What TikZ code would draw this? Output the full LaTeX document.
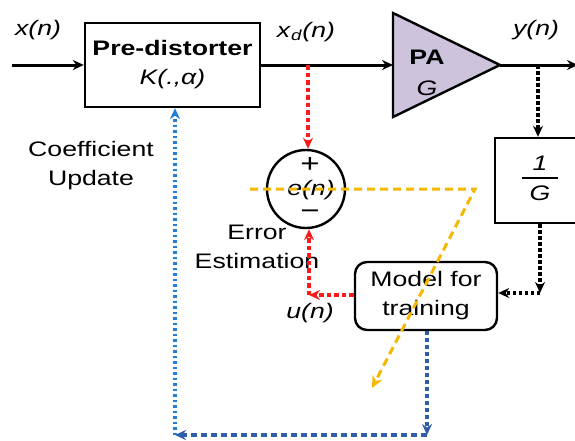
\documentclass[tikz,border=0pt]{standalone}
\usepackage{fontspec}
\setmainfont{Liberation Sans}[FakeStretch=1.27]
\usetikzlibrary{arrows.meta}
\definecolor{paFill}{HTML}{CDC3DD}
\definecolor{redD}{HTML}{FF1A1A}
\definecolor{yelD}{HTML}{F5B700}
\definecolor{blueDark}{HTML}{2F5DA8}
\definecolor{blueLight}{HTML}{1F7FD6}
\tikzset{
  txt/.style={font=\fontsize{21}{29}\selectfont, inner sep=0pt, align=center},
  sign/.style={font=\fontsize{26}{26}\selectfont, inner sep=0pt, text height=14pt, text depth=0pt, anchor=base},
  blockbox/.style={draw, line width=2.4pt, txt},
  solidarrow/.style={line width=3pt, -{Stealth[length=11pt,width=10pt]}},
  blackdot/.style={line width=3.5pt, dash pattern=on 3.5pt off 2.5pt, -{Stealth[length=11pt,width=10pt]}},
  reddot/.style={redD, line width=3.5pt, dash pattern=on 4.5pt off 3pt, -{Stealth[length=11pt,width=10pt]}},
  yeldash/.style={yelD, line width=3pt, dash pattern=on 8pt off 5pt, -{Stealth[length=12pt,width=11pt]}},
  bluedot/.style={blueLight, line width=3.5pt, dash pattern=on 2.5pt off 3pt, -{Stealth[length=11pt,width=10pt]}},
  bluedark/.style={blueDark, line width=3.5pt, dash pattern=on 4pt off 3pt, -{Stealth[length=11pt,width=10pt]}},
  bluedash/.style={blueDark, line width=3.5pt, dash pattern=on 6pt off 4pt, -{Stealth[length=11pt,width=10pt]}},
}
\begin{document}
\begin{tikzpicture}[x=1pt,y=-1pt]
\useasboundingbox (0,0) rectangle (575,440);
% blocks
\node[blockbox, minimum width=175pt, minimum height=84pt] (pd) at (172.5,65)
  {\textbf{Pre-distorter}\\\textit{K(.,α)}};
\coordinate (pain) at (393,65);
\coordinate (patop) at (393,13);
\coordinate (pabot) at (393,117);
\coordinate (paout) at (500,65);
\draw[line width=2.4pt, fill=paFill] (patop) -- (paout) -- (pabot) -- cycle;
\node[txt] (palbl) at (427,57) {\textbf{PA}};
\node[txt] (pag) at (427,88) {\textit{G}};
\node[blockbox, minimum width=92pt, minimum height=85pt] (ginv) at (541,180.5) {};
\node[txt] (one) at (540,163) {\textit{1}};
\node[txt] (gg) at (540,193) {\textit{G}};
\draw[line width=2.4pt] (522,178) -- (558,178);
\node[blockbox, rounded corners=12pt, minimum width=142pt, minimum height=68pt] (model) at (426,296)
  {Model for\\training};
\node[draw, circle, line width=2.4pt, minimum size=78pt, inner sep=0pt] (err) at (306,189) {};
\node[sign] (plus) at (310,172) {+};
\node[font=\fontsize{21}{21}\selectfont, inner sep=0pt, text height=12pt, text depth=3pt, anchor=base] (en) at (311,195) {\textit{e(n)}};
\node[sign] (minus) at (310,219) {−};
% labels
\node[txt] (xn) at (38,30) {\textit{x(n)}};
\node[txt] (xdn) at (306,32) {\textit{x}\textsubscript{\textit{d}}\textit{(n)}};
\node[txt] (yn) at (536,30) {\textit{y(n)}};
\node[txt] (un) at (310,313) {\textit{u(n)}};
\node[txt] (coef) at (91,166) {Coefficient\\Update};
\node[txt] (errest) at (257,247) {Error\\Estimation};
% main signal path
\coordinate (in) at (12,65);
\coordinate (out) at (578,65);
\draw[solidarrow] (in) -- (pd.west);
\draw[solidarrow] (pd.east) -- (pain);
\draw[solidarrow] (paout) -- (out);
% black feedback
\coordinate (tap1) at (538,65);
\coordinate (gcorner) at (540,293);
\draw[blackdot] (tap1) -- (tap1 |- ginv.north);
\draw[blackdot] (ginv.south -| gcorner) -- (gcorner);
\draw[blackdot] (gcorner) -- (gcorner -| model.east);
% red error path
\coordinate (tap2) at (308,65);
\coordinate (ucorner) at (309,295);
\draw[reddot] (tap2) -- (err.north -| tap2);
\draw[reddot] (ucorner -| model.west) -- (ucorner);
\draw[reddot] (ucorner) -- (err.south -| ucorner);
% yellow
\coordinate (ys) at (250,189);
\coordinate (yc) at (475,189);
\coordinate (ye) at (372,388);
\draw[yeldash] (ys) -- (yc) -- (ye);
% blue coefficient update
\coordinate (bc1) at (427,435);
\coordinate (bc2) at (175,435);
\draw[bluedark] (model.south -| bc1) -- (bc1);
\draw[bluedash] (bc1) -- (bc2);
\draw[bluedot] (bc2) -- (pd.south -| bc2);
\end{tikzpicture}
\end{document}
